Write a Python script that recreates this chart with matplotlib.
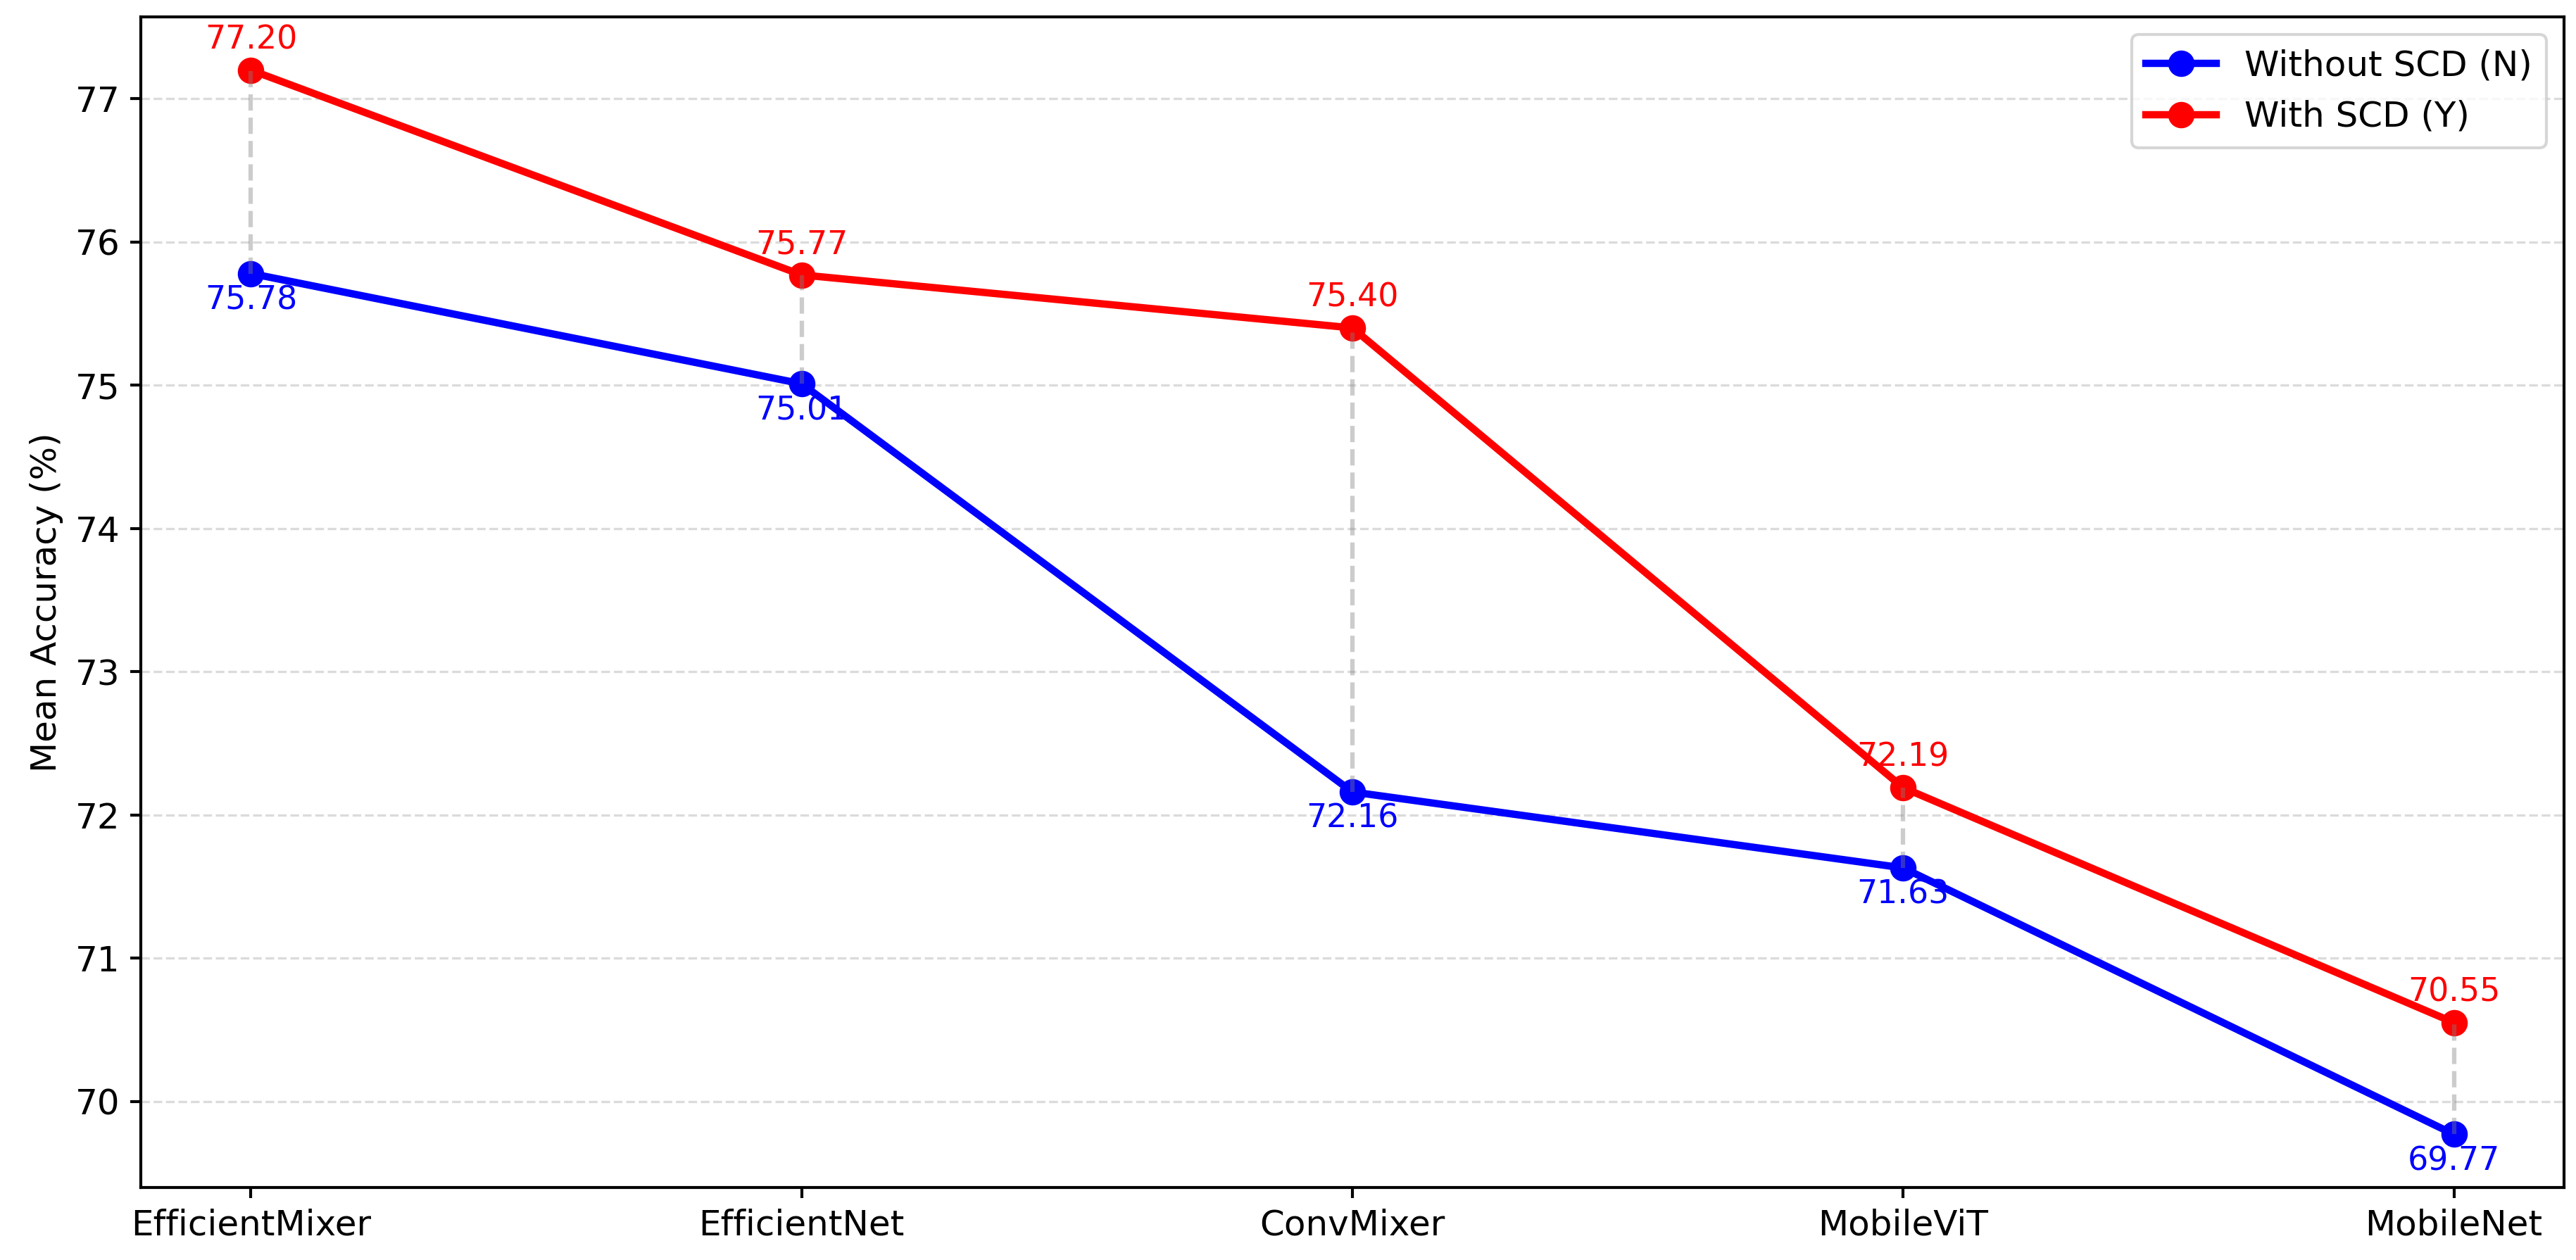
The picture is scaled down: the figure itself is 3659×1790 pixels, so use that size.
import matplotlib
matplotlib.use("Agg")
import matplotlib.pyplot as plt
import numpy as np

models = ["EfficientMixer", "EfficientNet", "ConvMixer", "MobileViT", "MobileNet"]
acc_without = [75.78, 75.01, 72.16, 71.63, 69.77]
acc_with = [77.20, 75.77, 75.40, 72.19, 70.55]

fig = plt.figure(figsize=(3659 / 300, 1790 / 300), dpi=300)
ax = fig.add_axes([200 / 3659, 1 - 1687 / 1790, (3642 - 200) / 3659, (1687 - 24) / 1790])

x = np.arange(len(models))

ax.plot(x, acc_without, "-o", color="blue", linewidth=2.5, markersize=8,
        label="Without SCD (N)")
ax.plot(x, acc_with, "-o", color="red", linewidth=2.5, markersize=8,
        label="With SCD (Y)")

# connectors between the two settings
for i in range(len(models)):
    ax.plot([x[i], x[i]], [acc_without[i], acc_with[i]], "--",
            color="gray", alpha=0.4, linewidth=1.5)

for i in range(len(models)):
    ax.text(x[i], acc_with[i] + 0.15, "{:.2f}".format(acc_with[i]),
            ha="center", color="red", fontsize=11)
    ax.text(x[i], acc_without[i] - 0.25, "{:.2f}".format(acc_without[i]),
            ha="center", color="blue", fontsize=11)

ax.set_xticks(x)
ax.set_xticklabels(models, fontsize=12)
ax.tick_params(axis="y", labelsize=12)
ax.tick_params(width=1.0)
for spine in ax.spines.values():
    spine.set_linewidth(1.0)
ax.set_ylabel("Mean Accuracy (%)", fontsize=12)
ax.yaxis.grid(True, linestyle="--", alpha=0.45)
ax.set_axisbelow(True)
ax.legend(loc="upper right", fontsize=12)

fig.savefig("out.png", dpi=300)
